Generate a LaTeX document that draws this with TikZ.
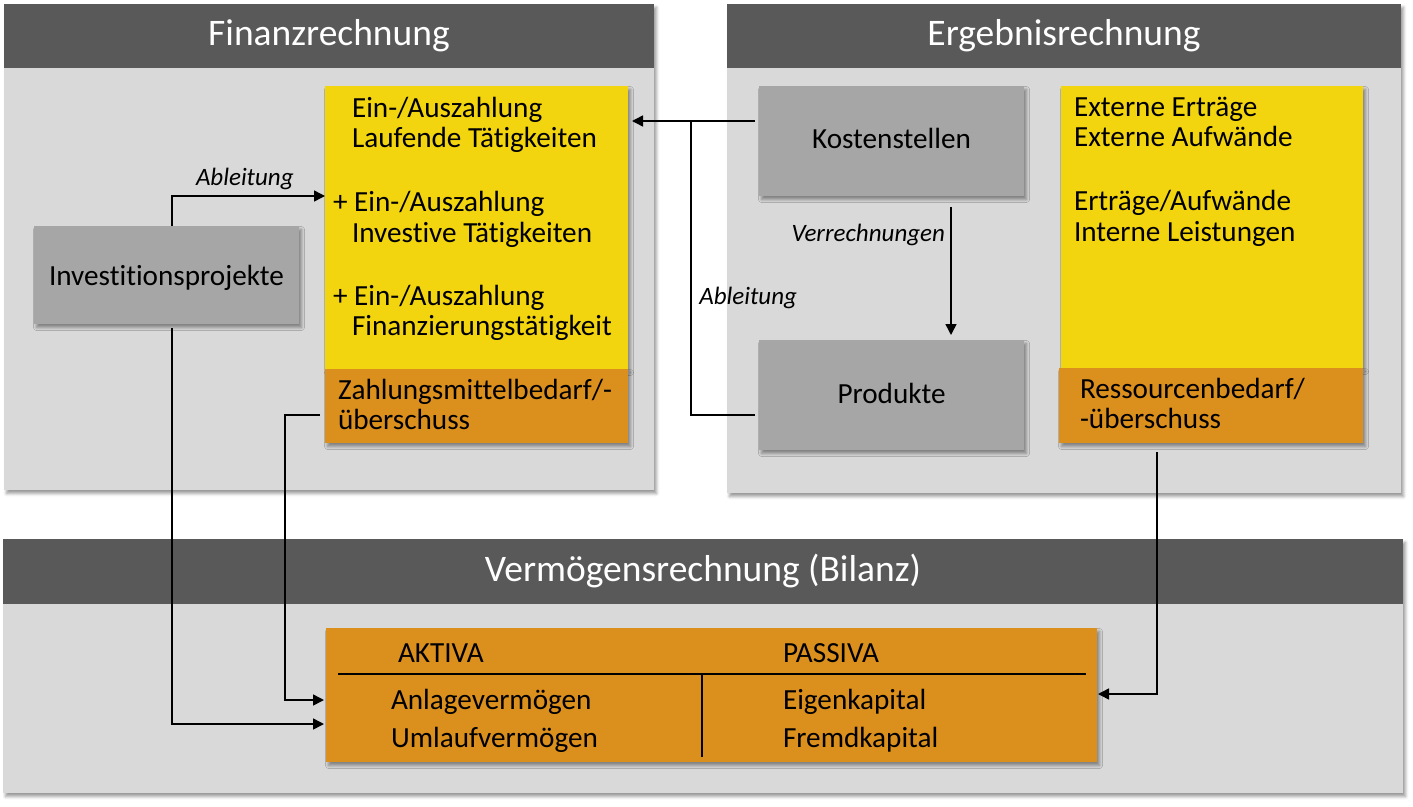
\documentclass[tikz,border=0pt]{standalone}
\usepackage{fontspec}
\setmainfont[Ligatures=NoCommon]{Carlito}
\usetikzlibrary{arrows.meta,shadows.blur}
\definecolor{hdr}{HTML}{595959}
\definecolor{pnl}{HTML}{D9D9D9}
\definecolor{gbox}{HTML}{A6A6A6}
\definecolor{ylw}{HTML}{F2D50F}
\definecolor{org}{HTML}{DB8F1D}
\begin{document}
\begin{tikzpicture}[x=1pt,y=-1pt,
  every node/.style={inner sep=0pt, outer sep=0pt},
  shd/.style={blur shadow={shadow xshift=2.5pt, shadow yshift=-3.5pt, shadow blur radius=3pt, shadow opacity=40}},
  panel/.style={fill=pnl, anchor=north west, shd},
  header/.style={fill=hdr, anchor=north west},
  graybox/.style={fill=gbox, anchor=north west, shd},
  ylwbox/.style={fill=ylw, anchor=north west, shd},
  orgbox/.style={fill=org, anchor=north west, shd},
  title/.style={anchor=base, text=white, font=\fontsize{37.5}{40}\selectfont},
  txt/.style={anchor=base west, font=\fontsize{29.2}{31}\selectfont},
  ctxt/.style={anchor=base, font=\fontsize{29.2}{31}\selectfont},
  lbl/.style={font=\itshape\fontsize{25}{28}\selectfont},
  conn/.style={line width=1.5pt},
  arr/.style={conn, -{Triangle[length=11pt,width=11pt]}}
]
\useasboundingbox (0,0) rectangle (1413,806);

% panels
\node[panel, minimum width=650, minimum height=486] (pf) at (4,4) {};
\node[header, minimum width=650, minimum height=64] (hf) at (4,4) {};
\node[panel, minimum width=674, minimum height=489] (pe) at (727,4) {};
\node[header, minimum width=674, minimum height=64] (he) at (727,4) {};
\node[panel, minimum width=1400, minimum height=254] (pv) at (3,539) {};
\node[header, minimum width=1400, minimum height=65] (hv) at (3,539) {};

\node[title] (tf) at (329,45) {Finanzrechnung};
\node[title] (te) at (1064,45) {Ergebnisrechnung};
\node[title] (tv) at (703,581) {Vermögensrechnung (Bilanz)};

% boxes
\node[graybox, minimum width=265, minimum height=98] (inv) at (34,226) {};
\node[ylwbox, minimum width=303, minimum height=283] (fy) at (325,86) {};
\node[orgbox, minimum width=303, minimum height=74] (fo) at (325,369) {};
\node[graybox, minimum width=265, minimum height=110] (kst) at (759,86) {};
\node[graybox, minimum width=265, minimum height=110] (prd) at (759,340) {};
\node[ylwbox, minimum width=302, minimum height=282] (ey) at (1061,86) {};
\node[orgbox, minimum width=304, minimum height=75] (eo) at (1059,368) {};
\node[orgbox, minimum width=771, minimum height=134] (bil) at (326,628) {};

% texts
\node[ctxt] (tinv) at (166.5,285) {Investitionsprojekte};
\node[txt] (fy1) at (352,117) {Ein-/Auszahlung};
\node[txt] (fy2) at (352,147) {Laufende Tätigkeiten};
\node[txt] (fy3) at (333,211) {+ Ein-/Auszahlung};
\node[txt] (fy4) at (352,242) {Investive Tätigkeiten};
\node[txt] (fy5) at (333,305) {+ Ein-/Auszahlung};
\node[txt] (fy6) at (352,335) {Finanzierungstätigkeit};
\node[txt] (fo1) at (338,399) {Zahlungsmittelbedarf/-};
\node[txt] (fo2) at (338,429) {überschuss};
\node[ctxt] (tkst) at (891.5,148) {Kostenstellen};
\node[ctxt] (tprd) at (891.5,403) {Produkte};
\node[txt] (ey1) at (1074,116) {Externe Erträge};
\node[txt] (ey2) at (1074,146) {Externe Aufwände};
\node[txt] (ey3) at (1074,210) {Erträge/Aufwände};
\node[txt] (ey4) at (1074,241) {Interne Leistungen};
\node[txt] (eo1) at (1080,398) {Ressourcenbedarf/};
\node[txt] (eo2) at (1080,428) {-überschuss};
\node[txt] (b1t) at (398,662) {AKTIVA};
\node[txt] (b2t) at (783,662) {PASSIVA};
\node[txt] (b3t) at (391,709) {Anlagevermögen};
\node[txt] (b4t) at (391,747) {Umlaufvermögen};
\node[txt] (b5t) at (783,709) {Eigenkapital};
\node[txt] (b6t) at (783,747) {Fremdkapital};

% rules inside balance sheet box
\draw[line width=2pt] (338,674) -- (1086,674);
\draw[line width=1.3pt] (702,674) -- (702,757);

% labels
\node[lbl, anchor=base west] (l1) at (196,185) {Ableitung};
\node[lbl, anchor=base east] (l2) at (945,241) {Verrechnungen};
\node[lbl, anchor=base east] (l3) at (797,304) {Ableitung};

% connectors
\coordinate (a1) at (172,196);
\coordinate (j1) at (691,121);
\coordinate (j2) at (691,415);
\coordinate (c1) at (285,700);
\coordinate (c2) at (172,724);
\coordinate (c3) at (1157,694);
\coordinate (v) at (951,0);

\draw[arr] (inv.north -| a1) |- (fy.west |- a1);
\draw[arr, shorten <=4pt, shorten >=2pt] (inv.south -| c2) |- (bil.west |- c2);
\draw[arr, shorten <=5pt, shorten >=2pt] (fo.west |- j2) -| (c1) -- (bil.west |- c1);
\draw[arr, shorten <=9pt, shorten >=1pt] (eo.south -| c3) |- (bil.east |- c3);
\draw[arr, shorten <=4pt, shorten >=4pt] (kst.west |- j1) -- (fy.east |- j1);
\draw[conn, shorten <=4pt] (prd.west |- j2) -| (j1);
\draw[arr, shorten <=11pt, shorten >=5pt] (kst.south -| v) -- (prd.north -| v);
\end{tikzpicture}
\end{document}
